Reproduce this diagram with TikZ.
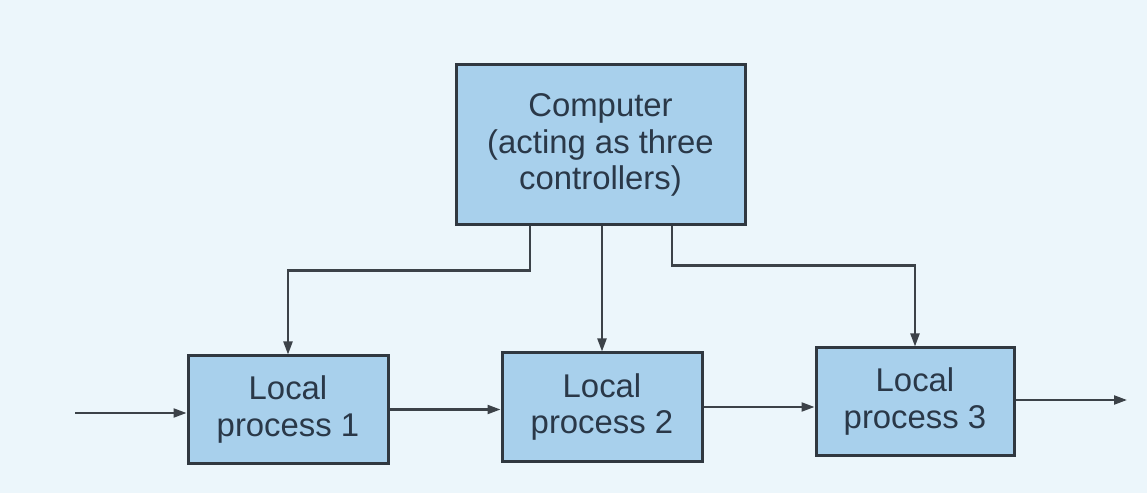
\documentclass[tikz,border=0pt]{standalone}
\usepackage{fontspec}
\setmainfont{Liberation Sans}
\usetikzlibrary{arrows.meta}
\definecolor{bgcol}{RGB}{236,246,251}
\definecolor{boxfill}{RGB}{168,208,236}
\definecolor{boxline}{RGB}{48,56,64}
\definecolor{txtcol}{RGB}{42,56,72}
\definecolor{arrcol}{RGB}{60,66,72}
\tikzset{
  procbox/.style={draw=boxline, fill=boxfill, line width=3bp, inner sep=0pt,
    align=center, text=txtcol, font=\fontsize{33}{37}\selectfont},
  arr/.style={draw=arrcol, line width=2.2bp, -{Triangle[length=13bp,width=9bp]}}
}
\begin{document}
\begin{tikzpicture}[x=1bp,y=-1bp]
\fill[bgcol] (0,0) rectangle (1147,493);
\useasboundingbox (0,0) rectangle (1147,493);
\node[procbox, minimum width=289bp, minimum height=160bp] (c) at (600.5,145)
  {Computer\\(acting as three\\controllers)};
\node[procbox, minimum width=200bp, minimum height=107bp] (b1) at (288,409.5)
  {Local\\process 1};
\node[procbox, minimum width=200bp, minimum height=108bp] (b2) at (602,407)
  {Local\\process 2};
\node[procbox, minimum width=198bp, minimum height=107bp] (b3) at (915,401.5)
  {Local\\process 3};
\coordinate (in) at (75,413);
\coordinate (out) at (1127,400);
\draw[arr] (in) -- (in -| b1.west);
\draw[arr] (b1.east) -- (b2.west |- b1.east);
\draw[arr] (b2.east) -- (b3.west |- b2.east);
\draw[arr] (b3.east |- out) -- (out);
\draw[arr] ([xshift=-70.5bp]c.south) -- ++(0,44) -| (b1.north);
\draw[arr] (b2.north |- c.south) -- (b2.north);
\draw[arr] ([xshift=71.5bp]c.south) -- ++(0,39) -| (b3.north);
\end{tikzpicture}
\end{document}
